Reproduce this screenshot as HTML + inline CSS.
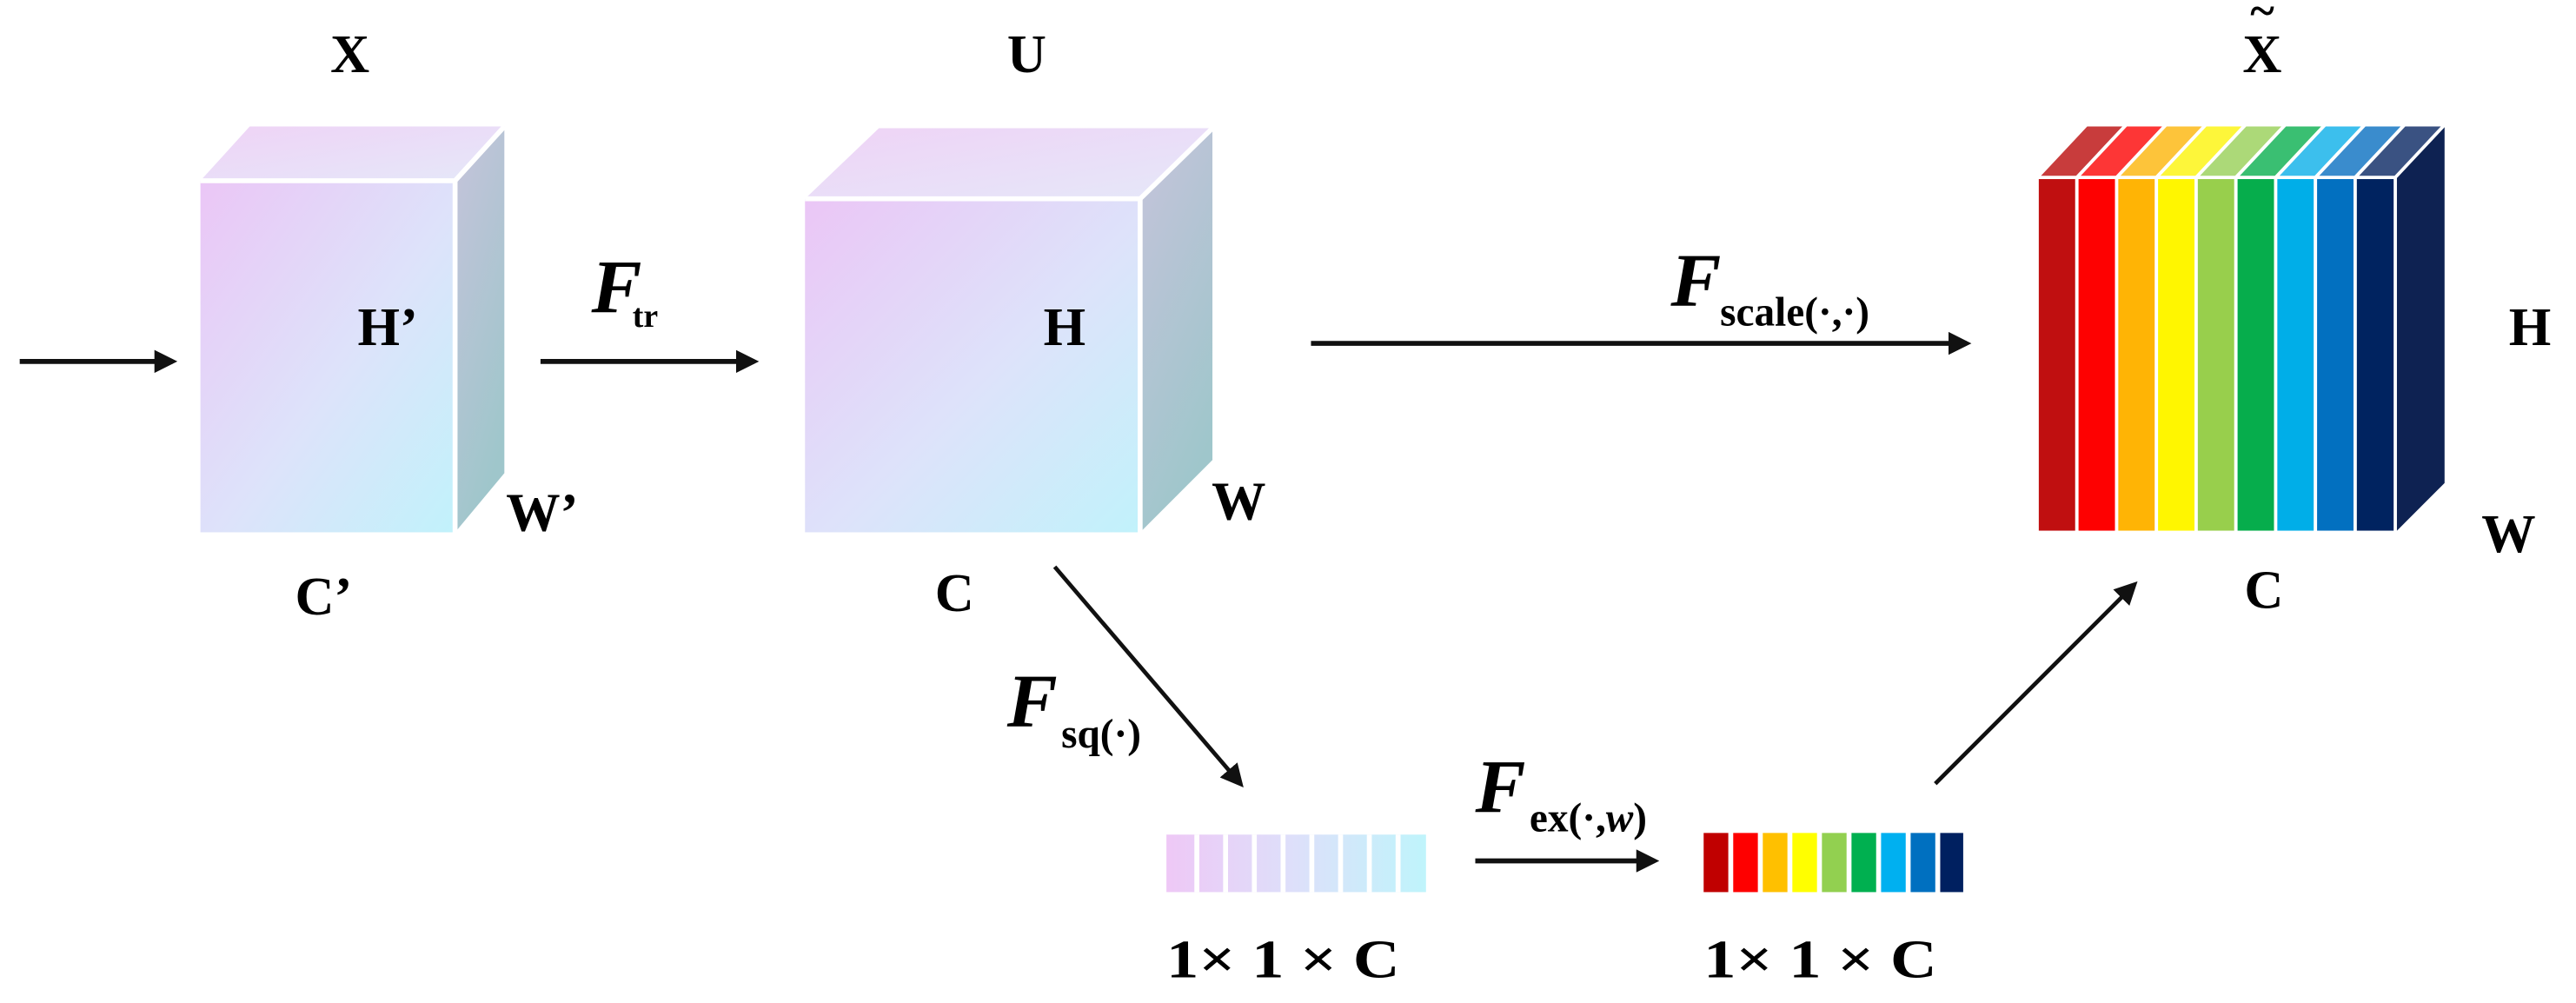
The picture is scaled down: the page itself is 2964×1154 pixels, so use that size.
<!DOCTYPE html>
<html><head><meta charset="utf-8"><style>
html,body{margin:0;padding:0;background:#fff;}
svg{display:block;}
text{font-family:"Liberation Serif",serif;font-weight:bold;fill:#000;}
</style></head><body>
<svg width="2964" height="1154" viewBox="0 0 1568 610.5" preserveAspectRatio="none" xmlns="http://www.w3.org/2000/svg">
<defs>
<linearGradient id="gf" x1="0" y1="0" x2="1" y2="1"><stop offset="0" stop-color="#ebc6f6"/><stop offset="0.55" stop-color="#dde3fa"/><stop offset="1" stop-color="#c1f2fb"/></linearGradient>
<linearGradient id="gt" x1="0" y1="0" x2="1" y2="1"><stop offset="0" stop-color="#efd3f6"/><stop offset="1" stop-color="#e5e8f9"/></linearGradient>
<linearGradient id="gs" x1="0" y1="0" x2="0.4" y2="1"><stop offset="0" stop-color="#c6c3db"/><stop offset="1" stop-color="#9fc6cb"/></linearGradient>
<linearGradient id="gv" x1="0" y1="0" x2="1" y2="0"><stop offset="0" stop-color="#eec8f6"/><stop offset="0.5" stop-color="#dde0fa"/><stop offset="1" stop-color="#bff4fb"/></linearGradient>
<marker id="ah2" markerWidth="14" markerHeight="14" refX="11" refY="7" orient="auto" markerUnits="userSpaceOnUse"><path d="M0,0 L14,7 L0,14 Z" fill="#111"/></marker>
</defs>

<!-- cube X -->
<polygon points="122,110 277,110 307,77 152,77" fill="url(#gt)"/>
<polygon points="277,110 307,77 307,288 277,324" fill="url(#gs)"/>
<rect x="122" y="110" width="155" height="214" fill="url(#gf)"/>
<polyline points="122,110 277,110 307,77" fill="none" stroke="#fff" stroke-width="3"/>
<line x1="277" y1="110" x2="277" y2="324" stroke="#fff" stroke-width="3"/>

<!-- cube U -->
<polygon points="490,121 694,121 738,78 535,78" fill="url(#gt)"/>
<polygon points="694,121 738,78 738,280 694,324" fill="url(#gs)"/>
<rect x="490" y="121" width="204" height="203" fill="url(#gf)"/>
<polyline points="490,121 694,121 738,78" fill="none" stroke="#fff" stroke-width="3"/>
<line x1="694" y1="121" x2="694" y2="324" stroke="#fff" stroke-width="3"/>

<!-- colored block -->
<polygon points="1458,108 1488,76 1488,294 1458,324" fill="#0e2252"/>
<g stroke="#fff" stroke-width="2">
<rect x="1240" y="108" width="24.2" height="216" fill="#c00f10"/>
<rect x="1264.2" y="108" width="24.2" height="216" fill="#fe0101"/>
<rect x="1288.4" y="108" width="24.2" height="216" fill="#ffb405"/>
<rect x="1312.6" y="108" width="24.2" height="216" fill="#fff600"/>
<rect x="1336.8" y="108" width="24.2" height="216" fill="#98cf4c"/>
<rect x="1361" y="108" width="24.2" height="216" fill="#06ad4c"/>
<rect x="1385.2" y="108" width="24.2" height="216" fill="#00aee8"/>
<rect x="1409.4" y="108" width="24.2" height="216" fill="#0270c0"/>
<rect x="1433.6" y="108" width="24.4" height="216" fill="#002360"/>
<polygon points="1240,108 1264.2,108 1294.2,76 1270,76" fill="#c83c3c"/>
<polygon points="1264.2,108 1288.4,108 1318.4,76 1294.2,76" fill="#fd3636"/>
<polygon points="1288.4,108 1312.6,108 1342.6,76 1318.4,76" fill="#fdc43a"/>
<polygon points="1312.6,108 1336.8,108 1366.8,76 1342.6,76" fill="#fdf63a"/>
<polygon points="1336.8,108 1361,108 1391,76 1366.8,76" fill="#acd978"/>
<polygon points="1361,108 1385.2,108 1415.2,76 1391,76" fill="#3abf72"/>
<polygon points="1385.2,108 1409.4,108 1439.4,76 1415.2,76" fill="#3cbfed"/>
<polygon points="1409.4,108 1433.6,108 1463.6,76 1439.4,76" fill="#3a8ccd"/>
<polygon points="1433.6,108 1458,108 1488,76 1463.6,76" fill="#3a5282"/>
</g>

<!-- small vectors -->
<rect x="710" y="508" width="158" height="35" fill="url(#gv)"/>
<g fill="#fff">
<rect x="727" y="508" width="3" height="35"/><rect x="744.5" y="508" width="3" height="35"/><rect x="762" y="508" width="3" height="35"/><rect x="779.5" y="508" width="3" height="35"/><rect x="797" y="508" width="3" height="35"/><rect x="814.5" y="508" width="3" height="35"/><rect x="832" y="508" width="3" height="35"/><rect x="849.5" y="508" width="3" height="35"/>
</g>
<g>
<rect x="1037" y="507" width="15" height="36" fill="#c00000"/>
<rect x="1055" y="507" width="15" height="36" fill="#fe0000"/>
<rect x="1073" y="507" width="15" height="36" fill="#ffc000"/>
<rect x="1091" y="507" width="15" height="36" fill="#ffff00"/>
<rect x="1109" y="507" width="15" height="36" fill="#92d050"/>
<rect x="1127" y="507" width="15" height="36" fill="#00b050"/>
<rect x="1145" y="507" width="15" height="36" fill="#00b0f0"/>
<rect x="1163" y="507" width="15" height="36" fill="#0070c0"/>
<rect x="1181" y="507" width="14" height="36" fill="#002060"/>
</g>

<!-- arrows -->
<g stroke="#111" stroke-width="3" fill="none">
<line x1="12" y1="220" x2="105" y2="220" marker-end="url(#ah2)"/>
<line x1="329" y1="220" x2="459" y2="220" marker-end="url(#ah2)"/>
<line x1="798" y1="209" x2="1197" y2="209" marker-end="url(#ah2)"/>
<line x1="898" y1="524" x2="1007" y2="524" marker-end="url(#ah2)"/>
<line x1="642" y1="345" x2="755" y2="477" marker-end="url(#ah2)" stroke-width="2.5"/>
<line x1="1178" y1="477" x2="1299" y2="356" marker-end="url(#ah2)" stroke-width="2.5"/>
</g>

<!-- labels -->
<g font-size="33">
<text x="213" y="44" text-anchor="middle">X</text>
<text x="625" y="44" text-anchor="middle">U</text>
<text x="1377" y="44" text-anchor="middle">X</text>
<text x="1377" y="16" text-anchor="middle" font-size="28">~</text>
<text x="236" y="210" text-anchor="middle">H’</text>
<text x="648" y="210" text-anchor="middle">H</text>
<text x="1540" y="210" text-anchor="middle">H</text>
<text x="330" y="323" text-anchor="middle">W’</text>
<text x="754" y="316" text-anchor="middle">W</text>
<text x="1527" y="336" text-anchor="middle">W</text>
<text x="197" y="374" text-anchor="middle">C’</text>
<text x="581" y="372" text-anchor="middle">C</text>
<text x="1378" y="370" text-anchor="middle">C</text>
</g>
<g font-style="italic" font-size="46">
<text x="360" y="190">F</text>
<text x="1017" y="186">F</text>
<text x="613" y="442">F</text>
<text x="898" y="494">F</text>
</g>
<g font-size="25">
<text x="385" y="199" font-size="20">tr</text>
<text x="1047" y="198">scale(·,·)</text>
<text x="646" y="455">sq(·)</text>
<text x="931" y="506">ex(·,<tspan font-style="italic">w</tspan>)</text>
</g>
<g font-size="33">
<text x="710" y="595" textLength="142" lengthAdjust="spacingAndGlyphs">1× 1 × C</text>
<text x="1037" y="595" textLength="142" lengthAdjust="spacingAndGlyphs">1× 1 × C</text>
</g>
</svg>
</body></html>
